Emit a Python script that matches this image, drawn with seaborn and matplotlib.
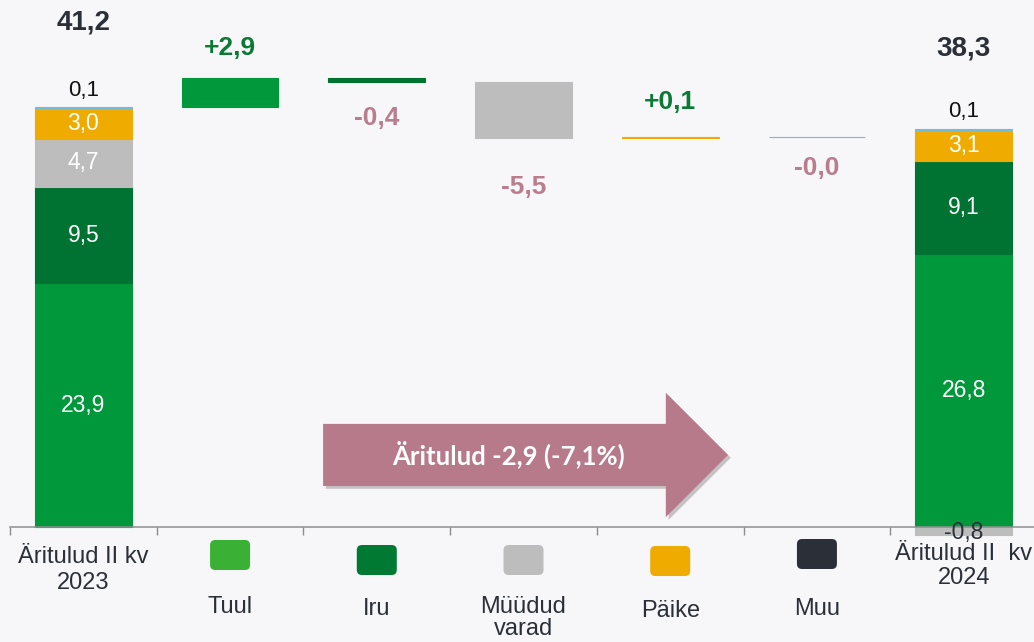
import matplotlib
matplotlib.use("Agg")
import matplotlib.pyplot as plt
import matplotlib.patheffects as pe
from matplotlib.patches import FancyArrow, FancyBboxPatch
import numpy as np
import seaborn as sns

# data
categories = ["Äritulud II kv\n2023", "Tuul", "Iru", "Müüdud\nvarad", "Päike", "Muu",
              "Äritulud II  kv\n2024"]
series = ["Tuul", "Iru", "Müüdud varad", "Päike", "Muu"]
values_2023 = [23.9, 9.5, 4.7, 3.0, 0.1]
changes = [2.9, -0.4, -5.5, 0.1, -0.02]
values_2024 = [26.8, 9.1, -0.8, 3.1, 0.1]
total_2023 = 41.2
total_2024 = 38.3
change_labels = ["+2,9", "-0,4", "-5,5", "+0,1", "-0,0"]
arrow_label = "Äritulud -2,9 (-7,1%)"

# style
bar_colors = ["#00983A", "#007332", "#BDBDBD", "#F0AB00", "#74BBD6"]
legend_colors = ["#3AB035", "#007A33", "#BDBDBD", "#F0AB00", "#2B2F38"]
bg = "#F7F7F9"
dark = "#2B2F38"
pos_color = "#0A7A35"
neg_color = "#B97D8D"
arrow_color = "#B77A8A"
PX = 0.72  # px -> points at dpi 100

sns.set_theme(style="white")
plt.rcParams["font.family"] = ["Liberation Sans", "DejaVu Sans"]

fig = plt.figure(figsize=(10.34, 6.42), dpi=100, facecolor=bg)
ax = fig.add_axes([10 / 1034, 0, 1027 / 1034, 1])
ax.set_facecolor(bg)

n = len(categories)
running = sum(values_2023)
for k, s in enumerate(series):
    b_start = sum(values_2023[:k])
    b_end = sum(v for v in values_2024[:k] if v > 0) if values_2024[k] > 0 else 0
    sns.barplot(x=[categories[0], categories[k + 1], categories[-1]],
                y=[values_2023[k], changes[k], values_2024[k]],
                bottom=[b_start, running, b_end],
                order=categories, color=bar_colors[k], saturation=1,
                width=0.66, errorbar=None, linewidth=0.8,
                edgecolor=bar_colors[k], ax=ax)
    # change label
    top = running + changes[k]
    gap = [30, 36, 49, 35, 31][k]
    if changes[k] >= 0:
        ax.annotate(change_labels[k], (k + 1, top), xytext=(0, gap * PX),
                    textcoords="offset points", ha="center", va="center",
                    fontsize=19, fontweight="bold", color=pos_color)
    else:
        ax.annotate(change_labels[k], (k + 1, top), xytext=(0, -gap * PX),
                    textcoords="offset points", ha="center", va="center",
                    fontsize=19, fontweight="bold", color=neg_color)
    running = top


def fmt(v):
    return f"{v:.1f}".replace(".", ",")


# segment labels of the two stacks
for idx, vals, total, tgap in [(0, values_2023, total_2023, 85), (n - 1, values_2024, total_2024, 80)]:
    pos_base = 0
    for v in vals:
        if v > 0:
            if v >= 1:
                ax.text(idx, pos_base + v / 2, fmt(v), ha="center", va="center",
                        fontsize=16.5, color="white")
            pos_base += v
        else:
            ax.annotate(fmt(v), (idx, v / 2), xytext=(0, -1 * PX), textcoords="offset points",
                        ha="center", va="center", fontsize=16.5, color=dark)
    small = vals[-1]
    ax.annotate(fmt(small), (idx, pos_base), xytext=(0, 17 * PX), textcoords="offset points",
                ha="center", va="center", fontsize=16, color="#111111")
    ax.annotate(fmt(total), (idx, pos_base), xytext=(0, tgap * PX), textcoords="offset points",
                ha="center", va="center", fontsize=20, fontweight="bold", color=dark)

ax.set_xlim(-0.5, n - 0.5)
ax.set_ylim(-115 / 10.19, 527 / 10.19)

# axis line at zero with boundary ticks
for sp in ["top", "left", "right"]:
    ax.spines[sp].set_visible(False)
ax.spines["bottom"].set_position(("data", 0))
ax.spines["bottom"].set_color("#8E8E8E")
ax.spines["bottom"].set_linewidth(1.1)
ax.spines["bottom"].set_zorder(1)
ax.set_xticks(np.arange(n))
ax.set_xticklabels([""] * n)
ax.set_xticks(np.arange(n + 1) - 0.5, minor=True)
ax.tick_params(axis="x", which="major", length=0)
ax.tick_params(axis="x", which="minor", length=5.5, width=1, color="#8E8E8E", direction="out",
               bottom=True)
ax.set_yticks([])
ax.set_xlabel("")
ax.set_ylabel("")

# category labels under the axis
unit = 10.19  # px per value unit
ax.annotate(categories[0], (0, 0), xytext=(0, -43 * PX), textcoords="offset points",
            ha="center", va="center", fontsize=17, color=dark, linespacing=1.2)
ax.annotate(categories[-1], (n - 1, 0), xytext=(0, -39 * PX), textcoords="offset points",
            ha="center", va="center", fontsize=17, color=dark, linespacing=1.15)

legend_dy = [28, 33, 33, 34, 27]
label_dy = [80, 82, 91, 84, 82]
box_w, box_h = 40 / 146.7, 30 / unit
aspect = 146.7 / unit
for k, s in enumerate(series):
    xc = k + 1
    yc = -legend_dy[k] / unit
    ax.add_patch(FancyBboxPatch((xc - box_w / 2, yc - box_h / 2), box_w, box_h,
                                boxstyle="round,pad=0,rounding_size=0.035",
                                mutation_aspect=aspect, facecolor=legend_colors[k],
                                edgecolor="none", clip_on=False))
    ax.annotate(categories[k + 1], (xc, 0), xytext=(0, -label_dy[k] * PX),
                textcoords="offset points", ha="center", va="center", fontsize=17,
                color=dark, linespacing=1.05)

# arrow with total change
arrow = FancyArrow(1.634, 7.07, 4.394 - 1.634, 0, width=6.1, head_width=12.2,
                   head_length=4.394 - 3.97, length_includes_head=True,
                   facecolor=arrow_color, edgecolor="none", zorder=3)
arrow.set_path_effects([pe.SimplePatchShadow(offset=(2, -2), alpha=0.25), pe.Normal()])
ax.add_patch(arrow)
ax.text(2.9, 7.07, arrow_label, ha="center", va="center", fontsize=18.5, fontweight="bold",
        color="white", family=["Lato", "DejaVu Sans"], zorder=4)

fig.savefig("out.png", dpi=100, facecolor=bg)
